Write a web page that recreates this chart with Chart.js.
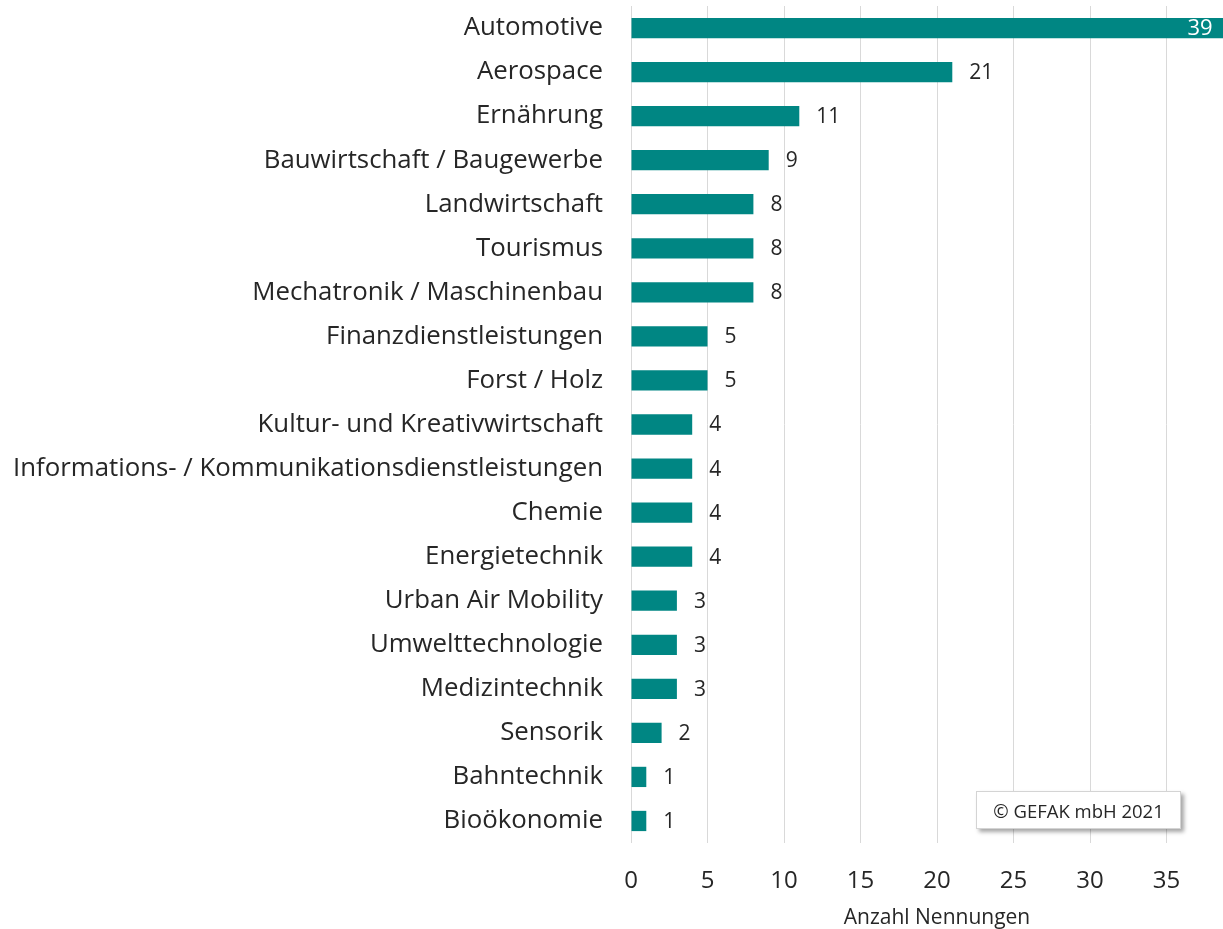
<!DOCTYPE html>
<html>
<head>
<meta charset="utf-8">
<script src="https://cdn.jsdelivr.net/npm/chart.js@4/dist/chart.umd.min.js"></script>
<style>
  body { margin: 0; overflow: hidden; background: #fff; }
  #wrap { position: relative; width: 1223px; height: 929px; overflow: hidden; }
  #grafico { position: absolute; left: 0; top: 0; }
  #copyright {
    position: absolute; left: 976px; top: 791px; width: 203px; height: 36px;
    background: #fff; border: 1px solid #d4d4d4;
    box-shadow: 3px 3px 4px rgba(0,0,0,0.35);
    font: 18.5px "Open Sans", sans-serif; color: #262626;
    display: flex; align-items: center; justify-content: center;
  }
</style>
</head>
<body>
<div id="wrap">
  <canvas id="grafico" width="1243" height="929"></canvas>
  <div id="copyright">© GEFAK mbH 2021</div>
</div>
<script>
// Branchen und Anzahl Nennungen
const branchen = [
  'Automotive', 'Aerospace', 'Ernährung', 'Bauwirtschaft / Baugewerbe',
  'Landwirtschaft', 'Tourismus', 'Mechatronik / Maschinenbau',
  'Finanzdienstleistungen', 'Forst / Holz', 'Kultur- und Kreativwirtschaft',
  'Informations- / Kommunikationsdienstleistungen', 'Chemie', 'Energietechnik',
  'Urban Air Mobility', 'Umwelttechnologie', 'Medizintechnik', 'Sensorik',
  'Bahntechnik', 'Bioökonomie'
];
const nennungen = [39, 21, 11, 9, 8, 8, 8, 5, 5, 4, 4, 4, 4, 3, 3, 3, 2, 1, 1];
const xTicks = [0, 5, 10, 15, 20, 25, 30, 35];
const xTitel = 'Anzahl Nennungen';

const farbe = '#008683';
const schrift = '"Open Sans", sans-serif';

// Werte neben / in die Balken schreiben
const etiketten = {
  id: 'etiketten',
  afterDatasetsDraw(chart) {
    const ctx = chart.ctx;
    const meta = chart.getDatasetMeta(0);
    ctx.save();
    ctx.textBaseline = 'middle';
    meta.data.forEach((bar, i) => {
      const v = nennungen[i];
      if (v >= 30) {
        ctx.font = '22px ' + schrift;
        ctx.fillStyle = '#ffffff';
        ctx.textAlign = 'right';
        ctx.fillText(v, bar.x - 15, bar.y + 1);
      } else {
        ctx.font = '21px ' + schrift;
        ctx.fillStyle = '#262626';
        ctx.textAlign = 'left';
        ctx.fillText(v, bar.x + 17, bar.y + 1);
      }
    });
    ctx.restore();
  }
};

var ctx = document.getElementById('grafico').getContext('2d');
var chart = new Chart(ctx, {
  type: 'bar',
  data: {
    labels: branchen,
    datasets: [{
      data: nennungen,
      backgroundColor: farbe,
      borderWidth: 0,
      categoryPercentage: 1,
      barPercentage: 0.46
    }]
  },
  plugins: [etiketten],
  options: {
    indexAxis: 'y',
    responsive: false,
    animation: false,
    layout: { padding: { top: 6, left: 0, right: 0, bottom: 0 } },
    plugins: {
      legend: { display: false },
      tooltip: { enabled: false }
    },
    scales: {
      x: {
        min: 0,
        max: 40,
        afterBuildTicks: (scale) => {
          scale.ticks = xTicks.concat([40]).map(v => ({ value: v }));
        },
        afterFit: (scale) => {
          scale.height = 86;
          scale.paddingLeft = 0;
          scale.paddingRight = 0;
        },
        grid: { color: '#d9d9d9', drawTicks: false, lineWidth: 1 },
        border: { display: false },
        ticks: {
          padding: 24,
          color: '#262626',
          font: { family: 'Open Sans', size: 24 },
          callback: (v) => xTicks.includes(v) ? v : ''
        },
        title: {
          display: true,
          text: xTitel,
          color: '#262626',
          font: { family: 'Open Sans', size: 21 },
          padding: { top: 2, bottom: -2 }
        }
      },
      y: {
        afterFit: (scale) => {
          scale.width = 631;
          scale.paddingTop = 0;
          scale.paddingBottom = 0;
        },
        grid: { display: false, drawTicks: false },
        border: { display: false },
        ticks: {
          padding: 28,
          color: '#262626',
          font: { family: 'Open Sans', size: 25.8 }
        }
      }
    }
  }
});
</script>
</body>
</html>
